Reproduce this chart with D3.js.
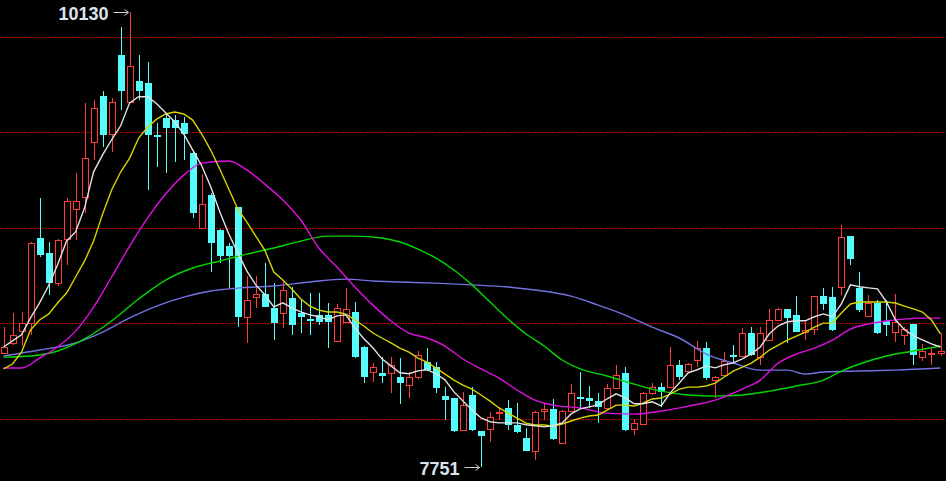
<!DOCTYPE html>
<html><head><meta charset="utf-8">
<script src="https://cdn.jsdelivr.net/npm/d3@7/dist/d3.min.js"></script>
<style>html,body{margin:0;padding:0;background:#000;overflow:hidden}</style>
</head><body>
<svg id="chart" width="946" height="481"></svg>
<script>
// ---- data ----
const openP  = [8345,8399,8462,8502,8947,8868,8711,8942,9099,9161,9449,9690,9491,9904,9658,9768,9758,9486,9575,9564,9549,9392,9001,9172,8989,8905,9107,8532,8637,8654,8579,8556,8631,8553,8522,8544,8544,8410,8509,8561,8378,8247,8239,8239,8221,8178,8221,8300,8271,8120,8108,7942,8126,7939,7946,8030,8059,7969,7899,7834,8042,8051,7873,8042,8114,8108,8096,8059,8161,8239,7946,7974,8134,8166,8169,8283,8253,8309,8370,8204,8230,8335,8330,8448,8326,8413,8518,8574,8544,8458,8471,8643,8638,8691,8955,8685,8539,8609,8513,8455,8439,8495,8327,8343,8348];
const highP  = [8481,8555,8560,8925,9156,8926,8940,9156,9287,9653,9669,9716,9679,10051,10130,9904,9868,9549,9601,9590,9580,9407,9282,9184,8992,8921,9110,8748,8748,8818,8710,8718,8692,8626,8658,8661,8605,8602,8684,8614,8380,8291,8323,8323,8318,8247,8357,8370,8300,8166,8110,8143,8166,7939,8038,8064,8099,8082,7951,8040,8082,8103,8046,8183,8247,8173,8134,8183,8283,8271,7998,8143,8187,8190,8378,8309,8295,8410,8404,8225,8352,8387,8475,8483,8483,8574,8581,8578,8646,8513,8646,8685,8691,9015,8958,8771,8649,8623,8623,8654,8483,8497,8395,8377,8448];
const lowP   = [8340,8387,8382,8439,8847,8649,8696,8806,8936,9078,9355,9423,9397,9617,9655,9669,9198,9318,9287,9344,9355,9052,9001,8771,8816,8685,8483,8396,8579,8585,8413,8475,8439,8448,8439,8492,8370,8410,8505,8318,8187,8195,8187,8134,8078,8108,8208,8254,8134,7995,7934,7940,7940,7751,7881,7995,7942,7925,7832,7786,7995,7892,7870,8040,8056,8056,7978,8055,8160,7940,7916,7972,8128,8061,8166,8204,8250,8271,8204,8108,8228,8295,8328,8330,8283,8410,8515,8396,8455,8413,8439,8573,8463,8649,8806,8561,8536,8447,8434,8405,8385,8283,8303,8283,8330];
const closeP = [8377,8439,8501,8921,8858,8711,8936,9140,9140,9365,9627,9486,9658,9716,9847,9716,9486,9475,9522,9522,9491,9078,9125,8922,8853,8853,8532,8623,8654,8588,8501,8675,8492,8532,8514,8509,8509,8579,8574,8326,8218,8271,8225,8283,8187,8221,8335,8256,8161,8099,7939,8073,7942,7911,8009,8038,7969,7934,7834,8038,8051,7894,8043,8134,8103,8096,8061,8161,8230,7942,7981,8134,8166,8143,8283,8221,8288,8370,8213,8221,8305,8323,8448,8335,8448,8518,8574,8531,8458,8466,8643,8604,8466,8950,8837,8570,8609,8450,8492,8510,8471,8335,8358,8348,8354];

// moving averages, one value per candle (white / yellow)
const ma5  = [8377,8409,8441,8529,8608,8697,8807,8932,8979,9105,9293,9382,9461,9534,9654,9686,9686,9649,9602,9555,9492,9408,9325,9215,9084,8969,8870,8775,8702,8650,8587,8608,8582,8561,8545,8535,8519,8540,8545,8477,8420,8373,8315,8278,8242,8237,8252,8258,8237,8205,8142,8095,8048,8006,7986,7980,7980,7980,7970,7965,7959,7965,7980,8027,8053,8064,8074,8106,8132,8111,8080,8080,8090,8069,8137,8189,8242,8258,8278,8268,8284,8294,8315,8341,8377,8446,8488,8509,8514,8514,8535,8550,8535,8603,8702,8692,8686,8681,8613,8519,8467,8435,8414,8393,8377];
const ma10 = [8262,8288,8350,8466,8518,8549,8607,8659,8743,8827,8931,9072,9198,9292,9365,9470,9528,9569,9596,9606,9596,9564,9491,9407,9308,9203,9099,9031,8957,8884,8769,8727,8680,8628,8591,8570,8560,8560,8549,8518,8487,8450,8424,8398,8371,8350,8319,8298,8267,8235,8204,8178,8157,8126,8094,8058,8031,8005,7979,7969,7969,7963,7974,7990,8005,8016,8021,8047,8073,8073,8068,8084,8105,8110,8131,8157,8167,8167,8173,8188,8220,8251,8272,8293,8324,8361,8387,8413,8434,8455,8481,8502,8502,8555,8602,8612,8612,8612,8612,8607,8591,8576,8560,8518,8445];
// smooth averages, [candle index, value]
const ma20 = [[0,8267],[2,8267],[4,8319],[6,8377],[8,8460],[10,8586],[12,8743],[14,8905],[16,9052],[18,9177],[20,9276],[22,9339],[25,9350],[27,9303],[29,9229],[31,9146],[33,9041],[35,8895],[37,8795],[39,8691],[41,8596],[43,8513],[45,8450],[47,8424],[49,8382],[51,8314],[53,8262],[55,8214],[57,8152],[59,8099],[61,8073],[64,8058],[67,8031],[70,8026],[73,8042],[76,8068],[79,8099],[82,8157],[84,8204],[86,8293],[88,8340],[90,8371],[92,8413],[94,8471],[96,8497],[98,8513],[100,8523],[102,8528],[104,8528]];
const ma40 = [[0,8324],[3,8330],[6,8356],[9,8419],[12,8513],[15,8628],[18,8727],[21,8790],[24,8827],[27,8863],[30,8895],[33,8931],[36,8957],[39,8957],[42,8947],[44,8926],[46,8889],[48,8842],[50,8780],[52,8702],[54,8612],[56,8523],[58,8445],[60,8382],[62,8309],[64,8262],[67,8225],[70,8183],[73,8146],[76,8126],[79,8120],[82,8126],[85,8146],[88,8173],[91,8204],[93,8251],[95,8288],[98,8330],[101,8356],[104,8382]];
const ma60 = [[0,8330],[4,8361],[8,8398],[11,8455],[14,8529],[17,8591],[20,8638],[23,8670],[26,8685],[30,8696],[34,8717],[38,8732],[41,8722],[44,8717],[48,8711],[52,8702],[56,8691],[59,8675],[63,8643],[66,8596],[69,8544],[72,8481],[75,8424],[78,8340],[81,8293],[84,8256],[87,8256],[89,8235],[91,8246],[95,8251],[99,8256],[104,8267]];
const gridLevels = [10000, 9500, 9000, 8500, 8000];

// ---- drawing ----
const W = 946, H = 481;
const svg = d3.select('#chart');
svg.append('rect').attr('width', W).attr('height', H).attr('fill', '#000');

const idx = d3.range(openP.length);
const x = d3.scaleLinear().domain([0, openP.length - 1]).range([3.5, 940.5]);
const y = d3.scaleLinear().domain([7676, 10192]).range([H, 0]);

const UP = '#ff3c3c', DOWN = '#54fcfc';

// grid
svg.append('g').selectAll('line').data(gridLevels).join('line')
  .attr('x1', 0).attr('x2', W)
  .attr('y1', d => Math.round(y(d)) + 0.5).attr('y2', d => Math.round(y(d)) + 0.5)
  .attr('stroke', '#c00000').attr('stroke-width', 1).attr('stroke-dasharray', '2,1');

// candles
const gC = svg.append('g');
idx.forEach(i => {
  const o = openP[i], c = closeP[i], h = highP[i], l = lowP[i];
  const cx = Math.round(x(i));
  const up = c >= o;
  const col = up ? UP : DOWN;
  const top = Math.round(y(Math.max(o, c))), bot = Math.round(y(Math.min(o, c)));
  gC.append('line').attr('x1', cx + 0.5).attr('x2', cx + 0.5)
    .attr('y1', Math.round(y(h))).attr('y2', Math.round(y(l)))
    .attr('stroke', col).attr('stroke-width', 1);
  if (up) {
    gC.append('rect').attr('x', cx - 2.5).attr('y', top + 0.5)
      .attr('width', 6).attr('height', Math.max(1, bot - top))
      .attr('fill', '#000').attr('stroke', col).attr('stroke-width', 1);
  } else {
    gC.append('rect').attr('x', cx - 3).attr('y', top)
      .attr('width', 7).attr('height', Math.max(1, bot - top))
      .attr('fill', col);
  }
});

// moving averages
const lineFull = d3.line().x((d, i) => x(i)).y(d => y(d));
const linePts = d3.line().x(d => x(d[0])).y(d => y(d[1])).curve(d3.curveMonotoneX);
const gL = svg.append('g').attr('fill', 'none').attr('stroke-width', 1.4);
gL.append('path').attr('d', linePts(ma60)).attr('stroke', '#7272e0');
gL.append('path').attr('d', linePts(ma40)).attr('stroke', '#00d800');
gL.append('path').attr('d', linePts(ma20)).attr('stroke', '#e010e0');
gL.append('path').attr('d', lineFull(ma10)).attr('stroke', '#d6d600');
gL.append('path').attr('d', lineFull(ma5)).attr('stroke', '#e2e2e2');

// extreme labels
const hiIdx = d3.maxIndex(highP), loIdx = d3.minIndex(lowP);
function marker(i, v, dy) {
  const cx = Math.round(x(i)) + 0.5;
  const yy = Math.round(y(v)) + 0.5;
  const g = svg.append('g');
  g.append('text').attr('x', cx - 22).attr('y', yy + dy)
    .attr('text-anchor', 'end')
    .attr('font-family', "'Liberation Sans', Arial, sans-serif")
    .attr('font-weight', 'bold').attr('font-size', 18)
    .attr('fill', '#dde3ec').text(v);
  g.append('line').attr('x1', cx - 17).attr('x2', cx - 2).attr('y1', yy).attr('y2', yy)
    .attr('stroke', '#cfcfcf').attr('stroke-width', 1);
  g.append('path').attr('d', `M${cx - 6},${yy - 3}L${cx - 2},${yy}L${cx - 6},${yy + 3}`)
    .attr('fill', 'none').attr('stroke', '#cfcfcf').attr('stroke-width', 1);
}
marker(hiIdx, highP[hiIdx], 7);
marker(loIdx, lowP[loIdx], 7);
</script>
</body></html>
